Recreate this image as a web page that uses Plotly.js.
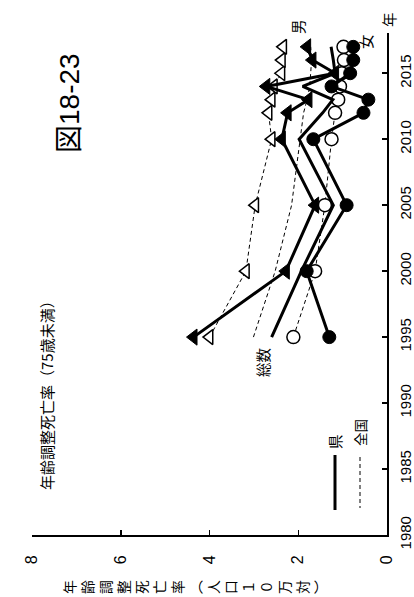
<!DOCTYPE html>
<html>
<head>
<meta charset="utf-8">
<script src="https://cdn.plot.ly/plotly-3.0.1.min.js"></script>
<style>
html,body{margin:0;padding:0;background:#fff;}
#chart{width:414px;height:597px;}
</style>
</head>
<body>
<div id="chart"></div>
<script>
// ---- data ----
const years      = [1995, 2000, 2005, 2010, 2012, 2013, 2014, 2015, 2016, 2017];
const kenMale    = [4.36, 2.28, 1.62, 2.37, 2.24, 1.77, 2.72, 1.17, 1.68, 1.80];
const zenMale    = [4.00, 3.18, 2.97, 2.60, 2.67, 2.60, 2.55, 2.38, 2.37, 2.34];
const kenFemale  = [1.30, 1.81, 0.91, 1.66, 0.53, 0.42, 1.25, 0.83, 0.76, 0.76];
const zenFemale  = [2.11, 1.62, 1.40, 1.25, 1.17, 1.10, 1.06, 1.02, 0.97, 0.98];
const kenTotal   = [2.60, 1.93, 1.21, 1.98, 1.45, 1.22, 1.90, 1.17, 1.21, 1.26];
const zenTotal   = [3.01, 2.52, 2.15, 1.95, 1.88, 1.80, 1.74, 1.72, 1.70, 1.72];
const valueTicks = [0, 2, 4, 6, 8];
const yearTicks  = [1980, 1985, 1990, 1995, 2000, 2005, 2010, 2015];
const figTitle   = '図18-23';
const subTitle   = '年齢調整死亡率（75歳未満）';
const axisTitleChars = ['年','齢','調','整','死','亡','率','︵','人','口','１','０','万','対','︶'];
const yearLabel  = '年';

const JP = 'Noto Sans CJK JP, Noto Sans, sans-serif';
const NUM = 'Liberation Sans Narrow, Liberation Sans, Arial, sans-serif';

// plot-area geometry (pixels)
const L = 32, R = 27, T = 33, B = 62, W = 414, H = 597;
const PW = W - L - R, PH = H - T - B;
function px2x(px){ return (px - L) / PW; }
function py2y(py){ return (H - B - py) / PH; }

const dashed = {color:'black', width:1, dash:'4px,3px'};
const solid  = {color:'black', width:3};

const traces = [
  {x: zenTotal, y: years, mode:'lines', line: dashed, name:'全国 総数'},
  {x: zenMale, y: years, mode:'lines+markers', line: dashed, name:'全国 男',
   marker:{symbol:'triangle-left', size:13, color:'white', line:{color:'black', width:1.5}}},
  {x: zenFemale, y: years, mode:'lines+markers', line: dashed, name:'全国 女',
   marker:{symbol:'circle', size:13, color:'white', line:{color:'black', width:1.5}}},
  {x: kenTotal, y: years, mode:'lines', line: solid, name:'県 総数'},
  {x: kenMale, y: years, mode:'lines+markers', line: solid, name:'県 男',
   marker:{symbol:'triangle-left', size:14, color:'black', line:{color:'black', width:1}}},
  {x: kenFemale, y: years, mode:'lines+markers', line: solid, name:'県 女',
   marker:{symbol:'circle', size:13, color:'black', line:{color:'black', width:1}}}
];

function ann(text, px, py, size, family){
  return {xref:'paper', yref:'paper', x:px2x(px), y:py2y(py), text:text,
          textangle:-90, showarrow:false, xanchor:'center', yanchor:'middle',
          font:{size:size, family:family || JP, color:'black'}};
}

const layout = {
  width: W, height: H,
  margin: {l:L, r:R, t:T, b:B, pad:0},
  paper_bgcolor:'white', plot_bgcolor:'white',
  showlegend:false,
  font:{family:NUM, color:'black'},
  xaxis:{
    range:[8, 0], tickvals: valueTicks, ticks:'inside', ticklen:5, tickwidth:1.5,
    tickcolor:'black', showline:true, linewidth:2, linecolor:'black',
    showgrid:false, zeroline:false, tickangle:-90, ticklabelstandoff:12,
    tickfont:{size:16, family:NUM, color:'black'}, fixedrange:true
  },
  yaxis:{
    range:[1980, 2018.05], tickvals: yearTicks, side:'right', ticks:'inside',
    ticklen:5, tickwidth:1.5, tickcolor:'black', showline:true, linewidth:2,
    linecolor:'black', showgrid:false, zeroline:false, tickangle:-90,
    ticklabelstandoff:4,
    tickfont:{size:15, family:NUM, color:'black'}, fixedrange:true
  },
  annotations:[
    ann(figTitle, 69, 103, 28, 'Liberation Sans, ' + JP),
    ann(subTitle, 46, 392, 15),
    ann(axisTitleChars.join('<br>'), 194, 587, 13.8),
    ann('総数', 262, 362, 14.5),
    ann('男', 297, 27, 14.5),
    ann('女', 366, 42, 14.5),
    ann(yearLabel, 388, 20, 14.5),
    ann('県', 335, 442, 14.5),
    ann('全国', 360, 433, 13.5)
  ],
  shapes:[
    {type:'line', xref:'paper', yref:'paper', x0:px2x(335), x1:px2x(335), y0:py2y(455), y1:py2y(510),
     line:{color:'black', width:3}},
    {type:'line', xref:'paper', yref:'paper', x0:px2x(360), x1:px2x(360), y0:py2y(457), y1:py2y(508),
     line:{color:'black', width:1, dash:'4px,3px'}}
  ]
};

Plotly.newPlot('chart', traces, layout, {displayModeBar:false, staticPlot:true});
</script>
</body>
</html>
